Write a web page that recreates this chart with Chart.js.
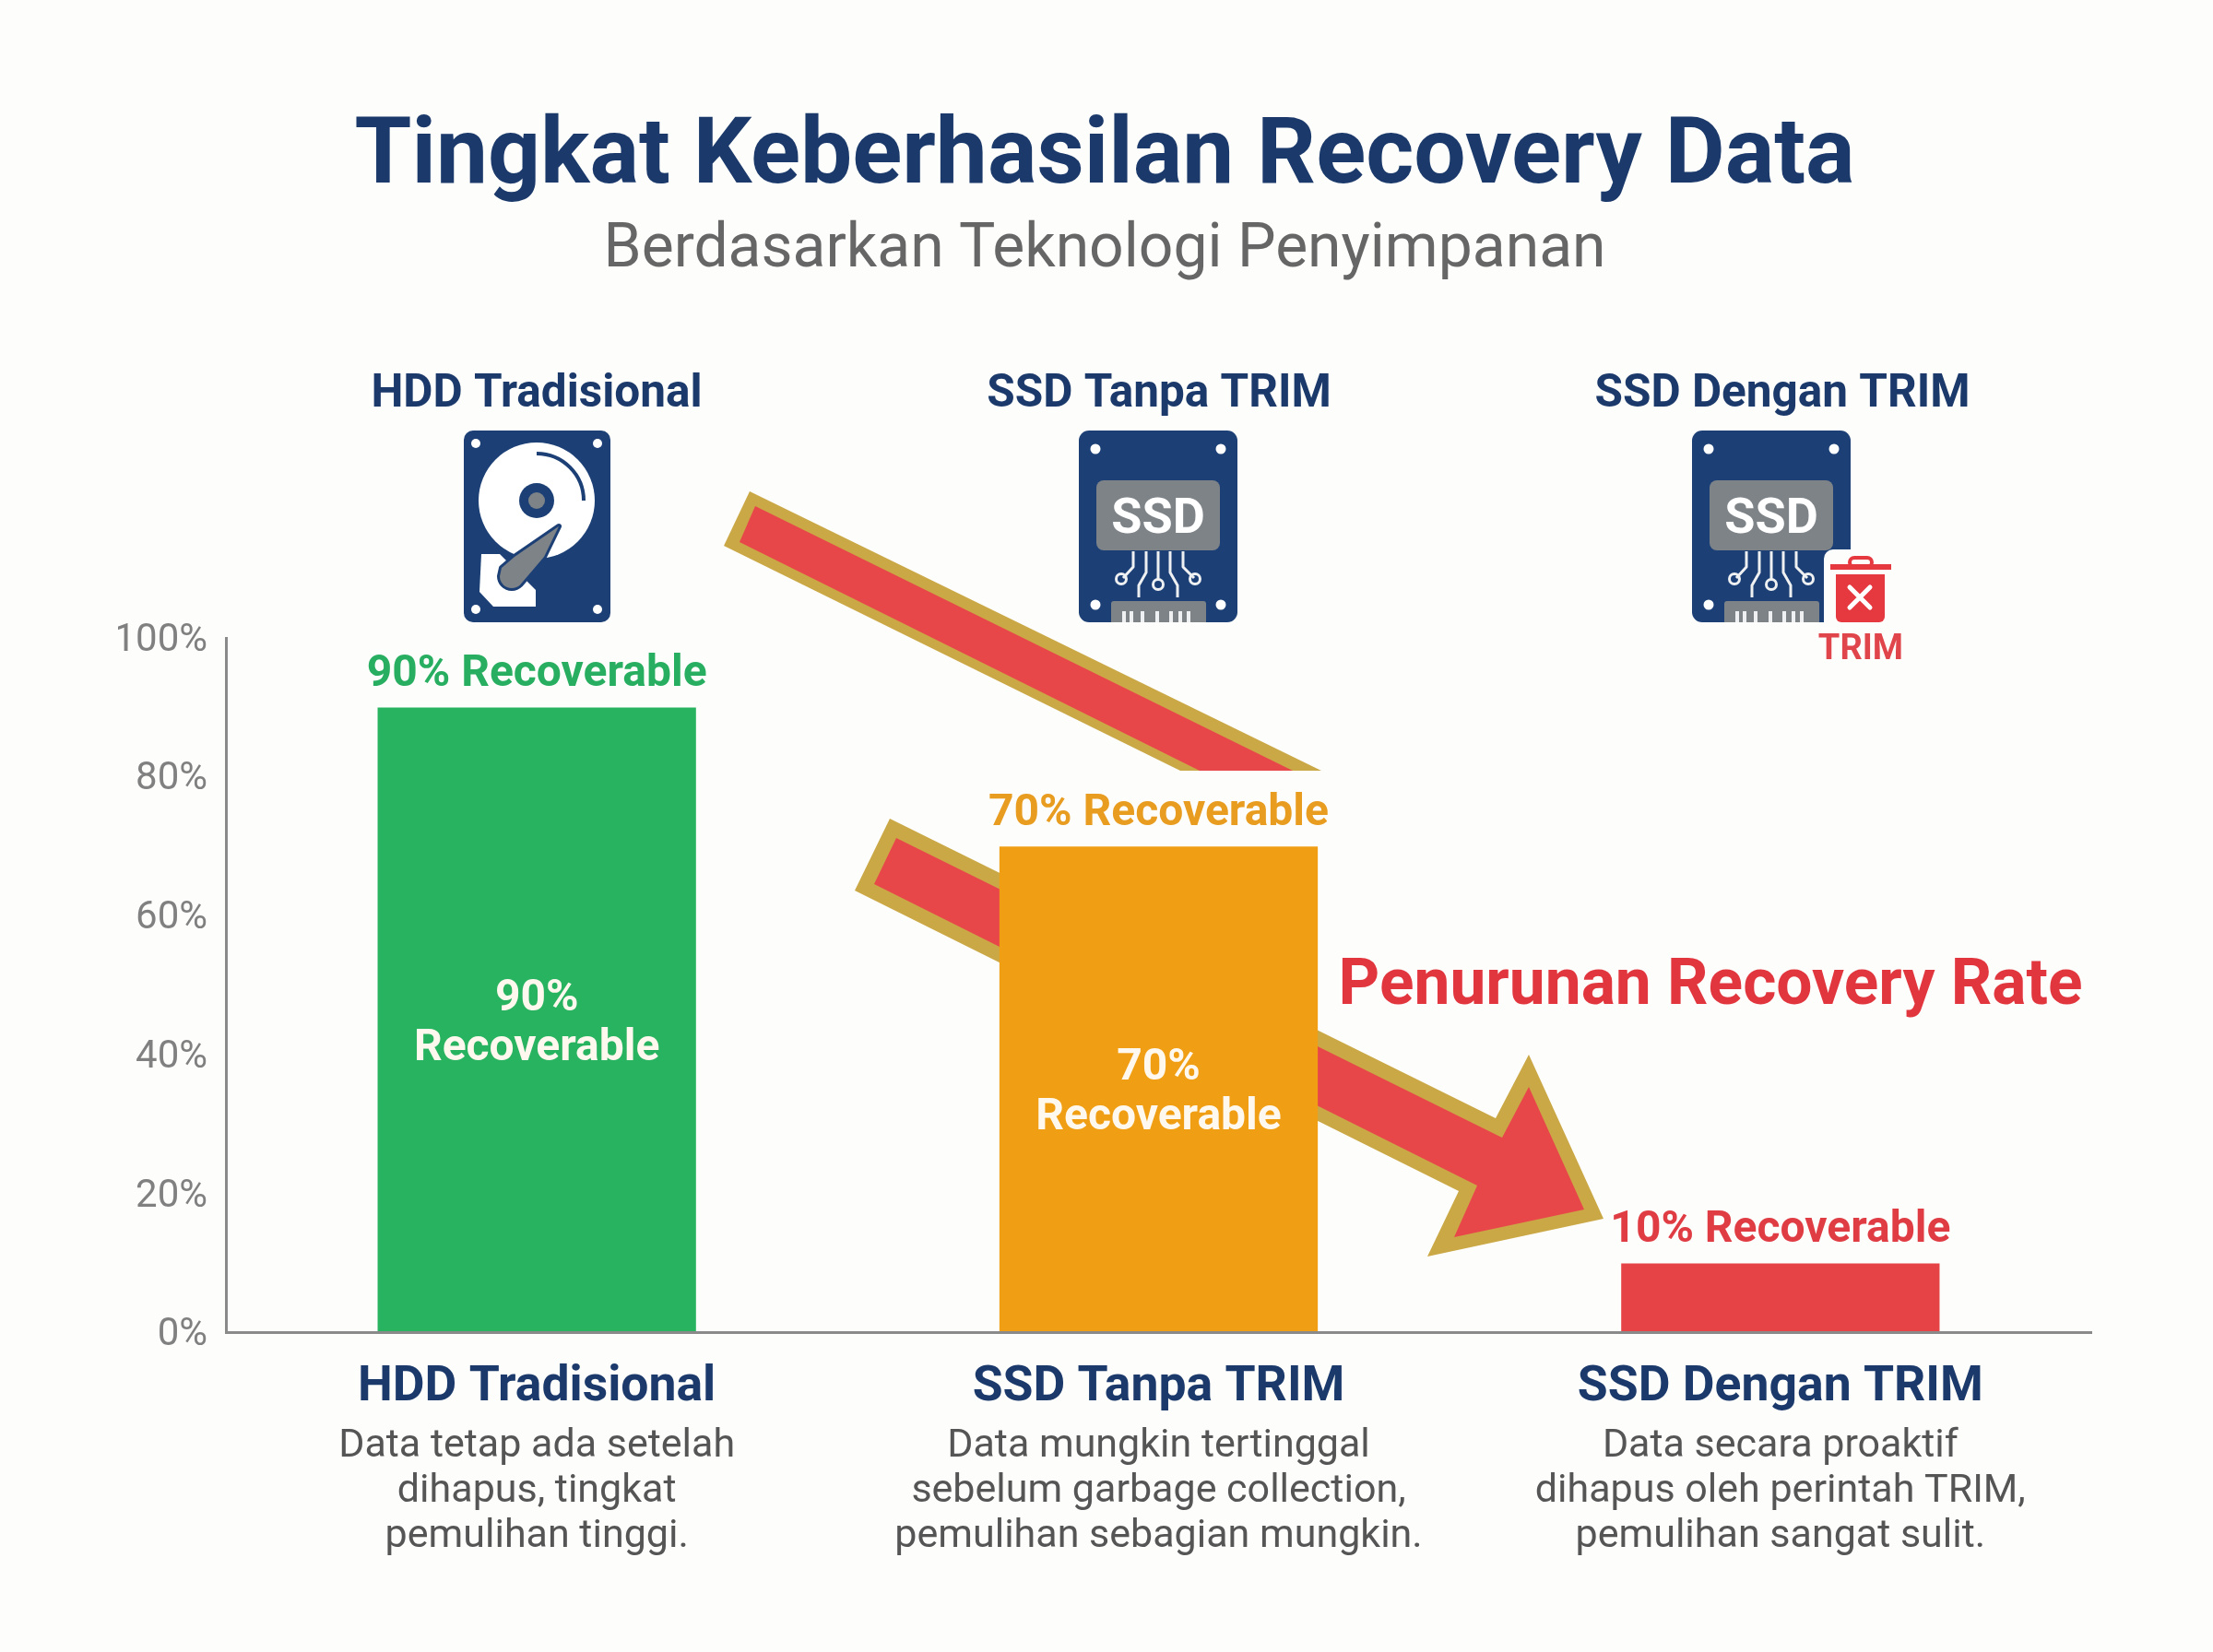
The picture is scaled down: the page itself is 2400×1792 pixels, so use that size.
<!DOCTYPE html>
<html>
<head>
<meta charset="utf-8">
<title>Tingkat Keberhasilan Recovery Data</title>
<script src="https://cdn.jsdelivr.net/npm/chart.js@4"></script>
<style>
  html, body { margin: 0; padding: 0; background: #fdfdfb; }
  canvas { display: block; }
</style>
</head>
<body>
<canvas id="grafico" width="2400" height="1792"></canvas>
<script>
const categories = ['HDD Tradisional', 'SSD Tanpa TRIM', 'SSD Dengan TRIM'];
const recoveryValues = [90, 70, 10];
const barColors = ['#27b35f', '#f09f14', '#e54345'];
const labelColors = ['#27ae60', '#e89c20', '#e03c44'];
const descriptions = [
    ['Data tetap ada setelah', 'dihapus, tingkat', 'pemulihan tinggi.'],
    ['Data mungkin tertinggal', 'sebelum garbage collection,', 'pemulihan sebagian mungkin.'],
    ['Data secara proaktif', 'dihapus oleh perintah TRIM,', 'pemulihan sangat sulit.']
];
const yTicks = [0, 20, 40, 60, 80, 100];
const titleText = 'Tingkat Keberhasilan Recovery Data';
const subtitleText = 'Berdasarkan Teknologi Penyimpanan';
const arrowText = 'Penurunan Recovery Rate';

const NAVY = '#1b3a6b';
const ICON_BLUE = '#1c4076';
const ICON_GRAY = '#7e8388';
const PAPER = '#fdfdfb';
const FONT = 'Roboto, sans-serif';

function polygon(ctx, pts, color) {
    ctx.fillStyle = color;
    ctx.beginPath();
    pts.forEach((p, i) => i ? ctx.lineTo(p[0], p[1]) : ctx.moveTo(p[0], p[1]));
    ctx.closePath();
    ctx.fill();
}

function text(ctx, str, x, y, font, color) {
    ctx.font = font;
    ctx.fillStyle = color;
    ctx.textAlign = 'center';
    ctx.textBaseline = 'middle';
    ctx.fillText(str, x, y);
}

function drawArrows(ctx) {
    const gold = '#cba846';
    const red = '#e8474a';
    polygon(ctx, [[813, 533], [1433, 836], [1280, 836], [785, 592]], gold);
    polygon(ctx, [[819, 549], [1402, 836], [1301, 836], [802, 588]], red);
    polygon(ctx, [[965, 888], [1622, 1213], [1658, 1144], [1739, 1322], [1548, 1363], [1582, 1292], [927, 966]], gold);
    polygon(ctx, [[972, 909], [1629, 1234], [1658, 1179], [1718, 1312], [1577, 1342], [1602, 1286], [948, 959]], red);
}

function drawHdd(ctx) {
    ctx.fillStyle = ICON_BLUE;
    ctx.beginPath();
    ctx.roundRect(503, 467, 159, 208, 10);
    ctx.fill();

    ctx.fillStyle = '#fff';
    [[516, 481], [648, 481], [516, 661], [648, 661]].forEach(p => {
        ctx.beginPath();
        ctx.arc(p[0], p[1], 5, 0, Math.PI * 2);
        ctx.fill();
    });
    ctx.beginPath();
    ctx.arc(582, 543, 63, 0, Math.PI * 2);
    ctx.fill();

    ctx.strokeStyle = ICON_BLUE;
    ctx.lineWidth = 4;
    ctx.beginPath();
    ctx.arc(582, 543, 51, -Math.PI / 2, 0);
    ctx.stroke();

    ctx.fillStyle = ICON_BLUE;
    ctx.beginPath();
    ctx.arc(582, 543, 19, 0, Math.PI * 2);
    ctx.fill();
    ctx.fillStyle = ICON_GRAY;
    ctx.beginPath();
    ctx.arc(582, 543, 9, 0, Math.PI * 2);
    ctx.fill();

    // soporte blanco bajo el brazo
    polygon(ctx, [[522, 601], [542, 601], [581, 640], [581, 658], [535, 658], [520, 642]], '#fff');

    // brazo
    ctx.lineJoin = 'round';
    ctx.beginPath();
    ctx.moveTo(606, 571);
    ctx.lineTo(558, 604);
    ctx.lineTo(544, 616);
    ctx.arc(555, 625, 13, Math.PI, Math.PI * 0.25, true);
    ctx.lineTo(590, 604);
    ctx.closePath();
    ctx.fillStyle = ICON_GRAY;
    ctx.strokeStyle = ICON_BLUE;
    ctx.lineWidth = 6;
    ctx.stroke();
    ctx.fill();
}

function drawSsd(ctx, dx) {
    ctx.save();
    ctx.translate(dx, 0);
    ctx.beginPath();
    ctx.roundRect(1170, 467, 172, 208, 11);
    ctx.fillStyle = ICON_BLUE;
    ctx.fill();
    ctx.save();
    ctx.clip();

    ctx.fillStyle = '#fff';
    [[1188, 487], [1324, 487], [1188, 656], [1324, 656]].forEach(p => {
        ctx.beginPath();
        ctx.arc(p[0], p[1], 5.5, 0, Math.PI * 2);
        ctx.fill();
    });

    ctx.fillStyle = ICON_GRAY;
    ctx.beginPath();
    ctx.roundRect(1189, 521, 134, 76, 8);
    ctx.fill();
    text(ctx, 'SSD', 1256, 564, 'bold 54px ' + FONT, '#fff');

    ctx.strokeStyle = '#eef0f2';
    ctx.lineWidth = 3;
    const traces = [
        [[1229, 598], [1229, 615], [1218, 627]],
        [[1243, 598], [1243, 621], [1235, 635], [1235, 648]],
        [[1256, 598], [1256, 628]],
        [[1269, 598], [1269, 621], [1277, 635], [1277, 648]],
        [[1283, 598], [1283, 615], [1295, 627]]
    ];
    traces.forEach(t => {
        ctx.beginPath();
        t.forEach((p, i) => i ? ctx.lineTo(p[0], p[1]) : ctx.moveTo(p[0], p[1]));
        ctx.stroke();
    });
    [[1216, 628], [1256, 634], [1296, 628]].forEach(p => {
        ctx.beginPath();
        ctx.arc(p[0], p[1], 5.5, 0, Math.PI * 2);
        ctx.stroke();
    });

    ctx.fillStyle = ICON_GRAY;
    ctx.beginPath();
    ctx.roundRect(1205, 652, 103, 30, 3);
    ctx.fill();
    ctx.fillStyle = '#eef0f2';
    [1219, 1227, 1239, 1255, 1270, 1280, 1289].forEach(x => {
        ctx.fillRect(x - 2, 663, 4, 12);
    });
    ctx.restore();
    ctx.restore();
}

function drawTrash(ctx) {
    const red = '#e5393f';
    ctx.fillStyle = PAPER;
    ctx.beginPath();
    ctx.roundRect(1978, 596, 85, 90, 10);
    ctx.fill();

    ctx.strokeStyle = red;
    ctx.lineWidth = 4;
    ctx.beginPath();
    ctx.roundRect(2006, 605, 24, 10, 5);
    ctx.stroke();
    ctx.fillStyle = red;
    ctx.fillRect(1985, 612, 66, 6);
    ctx.beginPath();
    ctx.roundRect(1991, 623, 53, 52, [0, 0, 6, 6]);
    ctx.fill();

    ctx.strokeStyle = '#fff';
    ctx.lineWidth = 5;
    ctx.lineCap = 'round';
    ctx.beginPath();
    ctx.moveTo(2006, 637);
    ctx.lineTo(2028, 659);
    ctx.moveTo(2028, 637);
    ctx.lineTo(2006, 659);
    ctx.stroke();
    ctx.lineCap = 'butt';

    text(ctx, 'TRIM', 2018, 705, 'bold 38px ' + FONT, '#e0454b');
}

const paperPlugin = {
    id: 'paper',
    beforeDraw(chart) {
        const { ctx, width, height } = chart;
        ctx.save();
        ctx.fillStyle = PAPER;
        ctx.fillRect(0, 0, width, height);
        ctx.restore();
    }
};

const decorPlugin = {
    id: 'decor',
    beforeDatasetsDraw(chart) {
        const ctx = chart.ctx;
        ctx.save();
        drawArrows(ctx);
        ctx.restore();
    },
    afterDatasetsDraw(chart) {
        const ctx = chart.ctx;
        const bars = chart.getDatasetMeta(0).data;
        const baseY = chart.scales.y.getPixelForValue(0);
        ctx.save();

        const headerX = [582, 1257, 1933];
        categories.forEach((cat, i) => {
            text(ctx, cat, headerX[i], 429, 'bold 49.5px ' + FONT, NAVY);
        });
        drawHdd(ctx);
        drawSsd(ctx, 0);
        drawSsd(ctx, 665);
        drawTrash(ctx);

        bars.forEach((bar, i) => {
            const label = recoveryValues[i] + '% Recoverable';
            text(ctx, label, bar.x, bar.y - 35, 'bold 48px ' + FONT, labelColors[i]);
            if (recoveryValues[i] > 20) {
                const mid = (bar.y + baseY) / 2;
                text(ctx, recoveryValues[i] + '%', bar.x, mid - 23, 'bold 48px ' + FONT, '#fff8ee');
                text(ctx, 'Recoverable', bar.x, mid + 31, 'bold 48px ' + FONT, '#fff8ee');
            }
            descriptions[i].forEach((line, n) => {
                text(ctx, line, bar.x, 1569 + n * 49, '43px ' + FONT, '#555555');
            });
        });

        text(ctx, arrowText, 1855, 1072, 'bold 69.5px ' + FONT, '#e2363f');
        ctx.restore();
    }
};

new Chart(document.getElementById('grafico').getContext('2d'), {
    type: 'bar',
    data: {
        labels: categories,
        datasets: [{
            data: recoveryValues,
            backgroundColor: barColors,
            barPercentage: 0.512,
            categoryPercentage: 1
        }]
    },
    plugins: [paperPlugin, decorPlugin],
    options: {
        responsive: false,
        animation: false,
        devicePixelRatio: 1,
        layout: { padding: { left: 128, right: 132, top: 0, bottom: 226 } },
        plugins: {
            legend: { display: false },
            tooltip: { enabled: false },
            title: {
                display: true,
                text: titleText,
                color: NAVY,
                font: { family: FONT, size: 100, weight: 'bold', lineHeight: 1 },
                padding: { top: 123, bottom: 16 }
            },
            subtitle: {
                display: true,
                text: subtitleText,
                color: '#666666',
                font: { family: FONT, size: 66, weight: 'normal', lineHeight: 1 },
                padding: { top: 0, bottom: 387 }
            }
        },
        scales: {
            x: {
                grid: { display: false, drawTicks: false },
                border: { color: '#8a8a8a', width: 3, z: 1 },
                ticks: {
                    color: NAVY,
                    padding: 28,
                    maxRotation: 0,
                    autoSkip: false,
                    font: { family: FONT, size: 53.5, weight: 'bold', lineHeight: 1.2 }
                }
            },
            y: {
                min: 0,
                max: 100,
                afterFit(scale) { scale.width = 117; },
                afterBuildTicks(scale) { scale.ticks = yTicks.map(v => ({ value: v })); },
                grid: { display: false, drawTicks: false },
                border: { color: '#8a8a8a', width: 3, z: 1 },
                ticks: {
                    color: '#808080',
                    padding: 20,
                    labelOffset: 3,
                    font: { family: FONT, size: 42 },
                    callback: v => v + '%'
                }
            }
        }
    }
});
</script>
</body>
</html>
